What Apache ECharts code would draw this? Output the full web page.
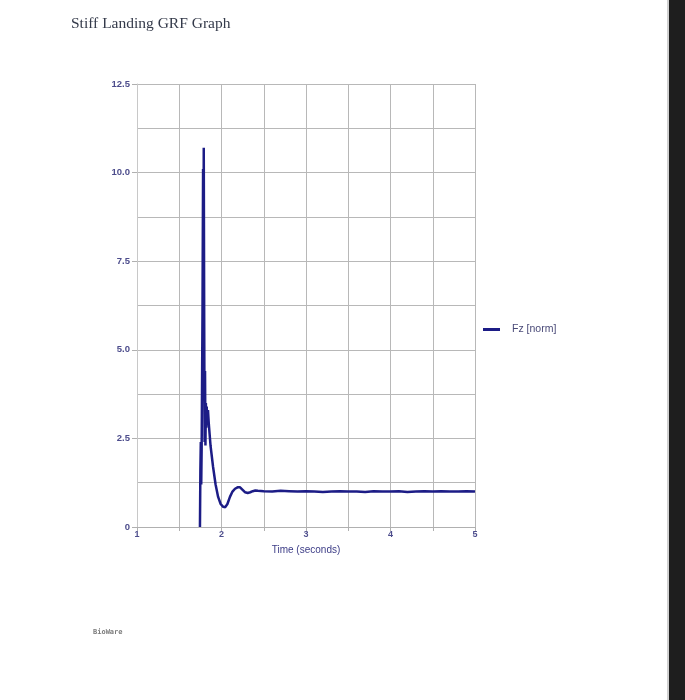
<!DOCTYPE html>
<html>
<head>
<meta charset="utf-8">
<script src="https://cdn.jsdelivr.net/npm/echarts@6/dist/echarts.min.js"></script>
<style>
html,body{margin:0;padding:0;background:#fff;}
#chart{width:685px;height:700px;}
</style>
</head>
<body>
<div id="chart"></div>
<script>
const seriesName = 'Fz [norm]';
const times = [1.745,1.750,1.755,1.760,1.765,1.775,1.782,1.786,1.790,1.795,1.800,1.805,1.810,1.815,1.820,1.825,1.830,1.840,1.850,1.870,1.900,1.930,1.960,1.990,2.020,2.045,2.070,2.100,2.130,2.160,2.190,2.220,2.250,2.280,2.310,2.340,2.370,2.400,2.430,2.5,2.6,2.7,2.8,2.9,3.0,3.1,3.2,3.3,3.4,3.5,3.6,3.7,3.8,3.9,4.0,4.1,4.2,4.3,4.4,4.5,4.6,4.7,4.8,4.9,5.0];
const fz = [0.0,1.6,2.4,1.2,2.2,6.0,10.1,5.0,10.7,6.0,2.4,4.4,2.3,3.5,2.8,3.4,3.0,3.3,2.9,2.3,1.7,1.2,0.85,0.65,0.57,0.56,0.65,0.85,1.00,1.08,1.12,1.12,1.05,0.98,0.96,0.98,1.01,1.03,1.02,1.01,1.00,1.02,1.01,1.00,1.01,1.00,0.99,1.00,1.01,1.00,1.00,0.99,1.01,1.00,1.00,1.01,0.99,1.00,1.01,1.00,1.01,1.00,1.00,1.01,1.00];
const titleText = 'Stiff Landing GRF Graph';
const xAxisName = 'Time (seconds)';
const footerText = 'BioWare';

const chart = echarts.init(document.getElementById('chart'), null, {renderer:'canvas'});
const labelColor = '#4d4d8c';
chart.setOption({
  animation:false,
  backgroundColor:'#fff',
  title:{text:titleText,left:66,top:11,textStyle:{fontFamily:'Liberation Serif',fontSize:15.5,fontWeight:'normal',color:'#343a4a'}},
  legend:{data:[seriesName],left:478,top:319,icon:'rect',itemWidth:17,itemHeight:3,itemGap:12,
    textStyle:{fontFamily:'Liberation Sans',fontSize:10.5,color:'#4a4a78',padding:[0,0,0,7]}},
  grid:{left:137,right:210,top:84,bottom:173},
  xAxis:{type:'value',min:1,max:5,interval:1,
    name:xAxisName,nameLocation:'middle',nameGap:18,
    nameTextStyle:{fontFamily:'Liberation Sans',fontSize:10,color:'#3c3c86'},
    axisLine:{show:true,lineStyle:{color:'#b0b0b0',width:1}},
    axisTick:{show:true,length:4,lineStyle:{color:'#b0b0b0'}},
    minorTick:{show:true,splitNumber:2,length:4,lineStyle:{color:'#b0b0b0'}},
    axisLabel:{fontFamily:'Liberation Sans',fontSize:9,fontWeight:'bold',color:labelColor,margin:3},
    splitLine:{show:true,lineStyle:{color:'#b8b8b8',width:1}},
    minorSplitLine:{show:true,lineStyle:{color:'#b8b8b8',width:1}}
  },
  yAxis:{type:'value',min:0,max:12.5,interval:2.5,
    axisLine:{show:true,lineStyle:{color:'#c8c8c8',width:1}},
    axisTick:{show:true,length:5,lineStyle:{color:'#b0b0b0'}},
    minorTick:{show:false,splitNumber:2},
    axisLabel:{fontFamily:'Liberation Sans',fontSize:9.5,fontWeight:'bold',color:labelColor,margin:7,
      formatter:v=>v===0?'0':v.toFixed(1)},
    splitLine:{show:true,lineStyle:{color:'#b8b8b8',width:1}},
    minorSplitLine:{show:true,lineStyle:{color:'#b8b8b8',width:1}}
  },
  series:[{name:seriesName,type:'line',showSymbol:false,symbol:'none',
    lineStyle:{color:'#1c1c86',width:2.5},itemStyle:{color:'#1c1c86'},
    data:times.map((t,i)=>[t,fz[i]])}],
  graphic:[
    {type:'text',left:93,top:629,style:{text:footerText,font:'bold 7px "DejaVu Sans Mono"',fill:'#7a7a7a'}},
    {type:'rect',shape:{x:667,y:0,width:2,height:700},style:{fill:'#d0d0d0'}},
    {type:'rect',shape:{x:669,y:0,width:16,height:700},style:{fill:'#1e1e1e'}}
  ]
});
</script>
</body>
</html>
